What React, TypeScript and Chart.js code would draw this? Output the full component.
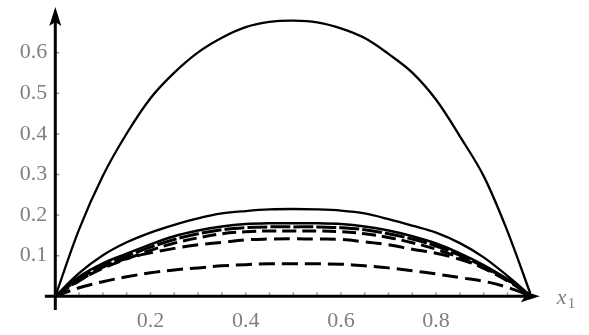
import React, { useEffect, useRef } from "react";
import { Chart, registerables } from "chart.js";

Chart.register(...registerables);

// sample positions along x1
const xValues = [0, 0.05, 0.1, 0.15, 0.2, 0.25, 0.3, 0.35, 0.4, 0.45, 0.5, 0.55, 0.6, 0.65, 0.7, 0.75, 0.8, 0.85, 0.9, 0.95, 1];

// series
const bigArc = [0, 0.165, 0.297, 0.401, 0.488, 0.551, 0.601, 0.637, 0.663, 0.676, 0.679, 0.675, 0.66, 0.636, 0.597, 0.551, 0.484, 0.394, 0.296, 0.16, 0];
const arcA = [0, 0.057, 0.101, 0.133, 0.157, 0.176, 0.192, 0.204, 0.21, 0.214, 0.215, 0.214, 0.211, 0.204, 0.19, 0.174, 0.157, 0.131, 0.096, 0.05, 0];
const arcB = [0, 0.048, 0.081, 0.105, 0.128, 0.148, 0.162, 0.172, 0.178, 0.18, 0.18, 0.18, 0.178, 0.172, 0.162, 0.148, 0.13, 0.106, 0.077, 0.042, 0];
const arcC = [0, 0.043, 0.075, 0.099, 0.121, 0.14, 0.154, 0.164, 0.169, 0.171, 0.171, 0.171, 0.169, 0.164, 0.154, 0.141, 0.124, 0.101, 0.073, 0.04, 0];
const arcD = [0, 0.039, 0.069, 0.092, 0.113, 0.131, 0.144, 0.154, 0.159, 0.161, 0.161, 0.161, 0.159, 0.154, 0.145, 0.132, 0.116, 0.095, 0.069, 0.038, 0];
const arcE = [0, 0.038, 0.072, 0.093, 0.107, 0.118, 0.127, 0.133, 0.139, 0.141, 0.142, 0.141, 0.14, 0.134, 0.127, 0.116, 0.106, 0.091, 0.07, 0.041, 0];
const arcF = [0, 0.021, 0.036, 0.048, 0.058, 0.065, 0.07, 0.075, 0.078, 0.08, 0.08, 0.08, 0.079, 0.075, 0.07, 0.063, 0.055, 0.046, 0.037, 0.022, 0];

const yTickValues = [0.1, 0.2, 0.3, 0.4, 0.5, 0.6];
const xTickValues = [0.2, 0.4, 0.6, 0.8];
const xMinorTicks = [0.05, 0.1, 0.15, 0.2, 0.25, 0.3, 0.35, 0.4, 0.45, 0.5, 0.55, 0.6, 0.65, 0.7, 0.75, 0.8, 0.85, 0.9, 0.95];

const Y_MAX = 0.7126;
const AXIS_X_START = -0.022;
const AXIS_X_END = 1.018;
const AXIS_Y_START = -0.034;

const LABEL_FONT = '"Liberation Serif", "DejaVu Serif", serif';
const LABEL_COLOR = "#7f7f7f";

const toPoints = (ys: number[]) => xValues.map((x, i) => ({ x, y: ys[i] }));

const axesPlugin = {
  id: "arrowAxes",
  afterDatasetsDraw(chart: any) {
    const { ctx } = chart;
    const xs = chart.scales.x;
    const ys = chart.scales.y;
    const x0 = xs.getPixelForValue(0);
    const y0 = ys.getPixelForValue(0);
    const xl = xs.getPixelForValue(AXIS_X_START);
    const xr = xs.getPixelForValue(AXIS_X_END);
    const yb = ys.getPixelForValue(AXIS_Y_START);
    const yt = ys.getPixelForValue(Y_MAX);
    ctx.save();
    // minor ticks
    ctx.strokeStyle = "#9a9a9a";
    ctx.lineWidth = 1.5;
    for (const v of xMinorTicks) {
      const px = xs.getPixelForValue(v);
      ctx.beginPath();
      ctx.moveTo(px, y0 - 4);
      ctx.lineTo(px, y0);
      ctx.stroke();
    }
    for (const v of yTickValues) {
      const py = ys.getPixelForValue(v);
      ctx.beginPath();
      ctx.moveTo(x0, py);
      ctx.lineTo(x0 + 4, py);
      ctx.stroke();
    }
    ctx.strokeStyle = "#000";
    ctx.fillStyle = "#000";
    ctx.lineWidth = 3;
    // x axis
    ctx.beginPath();
    ctx.moveTo(xl, y0);
    ctx.lineTo(xr - 10, y0);
    ctx.stroke();
    ctx.beginPath();
    ctx.moveTo(xr, y0);
    ctx.lineTo(xr - 19, y0 - 6);
    ctx.lineTo(xr - 15, y0);
    ctx.lineTo(xr - 19, y0 + 6);
    ctx.closePath();
    ctx.fill();
    // y axis
    ctx.beginPath();
    ctx.moveTo(x0, yb);
    ctx.lineTo(x0, yt + 10);
    ctx.stroke();
    ctx.beginPath();
    ctx.moveTo(x0, yt);
    ctx.lineTo(x0 - 6, yt + 19);
    ctx.lineTo(x0, yt + 15);
    ctx.lineTo(x0 + 6, yt + 19);
    ctx.closePath();
    ctx.fill();
    // axis label x1
    ctx.fillStyle = LABEL_COLOR;
    ctx.textBaseline = "alphabetic";
    ctx.textAlign = "left";
    ctx.font = `italic 22px ${LABEL_FONT}`;
    ctx.fillText("x", xr + 17, y0 + 8);
    ctx.font = `15px ${LABEL_FONT}`;
    ctx.fillText("1", xr + 28, y0 + 12);
    ctx.restore();
  },
};

export default function App() {
  const canvasRef = useRef<HTMLCanvasElement | null>(null);

  useEffect(() => {
    const canvas = canvasRef.current;
    if (!canvas) return;
    const base = { borderColor: "#000", pointRadius: 0, fill: false, tension: 0.35 };
    const chart = new Chart(canvas, {
      type: "line",
      data: {
        datasets: [
          { ...base, data: toPoints(bigArc), borderWidth: 2.3 },
          { ...base, data: toPoints(arcA), borderWidth: 2.3 },
          { ...base, data: toPoints(arcB), borderWidth: 2.5 },
          { ...base, data: toPoints(arcC), borderWidth: 3, borderDash: [20, 3] },
          { ...base, data: toPoints(arcD), borderWidth: 3, borderDash: [14, 6] },
          { ...base, data: toPoints(arcE), borderWidth: 3, borderDash: [16, 7] },
          { ...base, data: toPoints(arcF), borderWidth: 3, borderDash: [16, 7] },
        ],
      },
      options: {
        responsive: false,
        animation: false,
        devicePixelRatio: 1,
        layout: { padding: { top: 7, right: 57.7, left: 0, bottom: 0 } },
        plugins: { legend: { display: false }, tooltip: { enabled: false } },
        scales: {
          x: {
            type: "linear",
            min: 0,
            max: 1,
            grid: { display: false, drawTicks: false },
            border: { display: false },
            afterBuildTicks: (s: any) => {
              s.ticks = xTickValues.map((v) => ({ value: v }));
            },
            afterFit: (s: any) => {
              s.height = 38.7;
              s.paddingLeft = 0;
              s.paddingRight = 0;
              s.paddingTop = 0;
              s.paddingBottom = 0;
            },
            ticks: {
              padding: 12,
              color: LABEL_COLOR,
              font: { family: LABEL_FONT, size: 22 },
              maxRotation: 0,
              autoSkip: false,
              callback: (v: any) => Number(v).toFixed(1),
            },
          },
          y: {
            type: "linear",
            min: 0,
            max: Y_MAX,
            grid: { display: false, drawTicks: false },
            border: { display: false },
            afterBuildTicks: (s: any) => {
              s.ticks = yTickValues.map((v) => ({ value: v }));
            },
            afterFit: (s: any) => {
              s.width = 55.3;
              s.paddingLeft = 0;
              s.paddingRight = 0;
              s.paddingTop = 0;
              s.paddingBottom = 0;
            },
            ticks: {
              padding: 8,
              color: LABEL_COLOR,
              font: { family: LABEL_FONT, size: 22 },
              autoSkip: false,
              callback: (v: any) => Number(v).toFixed(1),
            },
          },
        },
      },
      plugins: [axesPlugin],
    } as any);
    return () => chart.destroy();
  }, []);

  return (
    <div style={{ position: "fixed", left: 0, top: 0, width: 589, height: 335, background: "#fff" }}>
      <canvas ref={canvasRef} width={589} height={335} style={{ width: 589, height: 335, display: "block" }} />
    </div>
  );
}
